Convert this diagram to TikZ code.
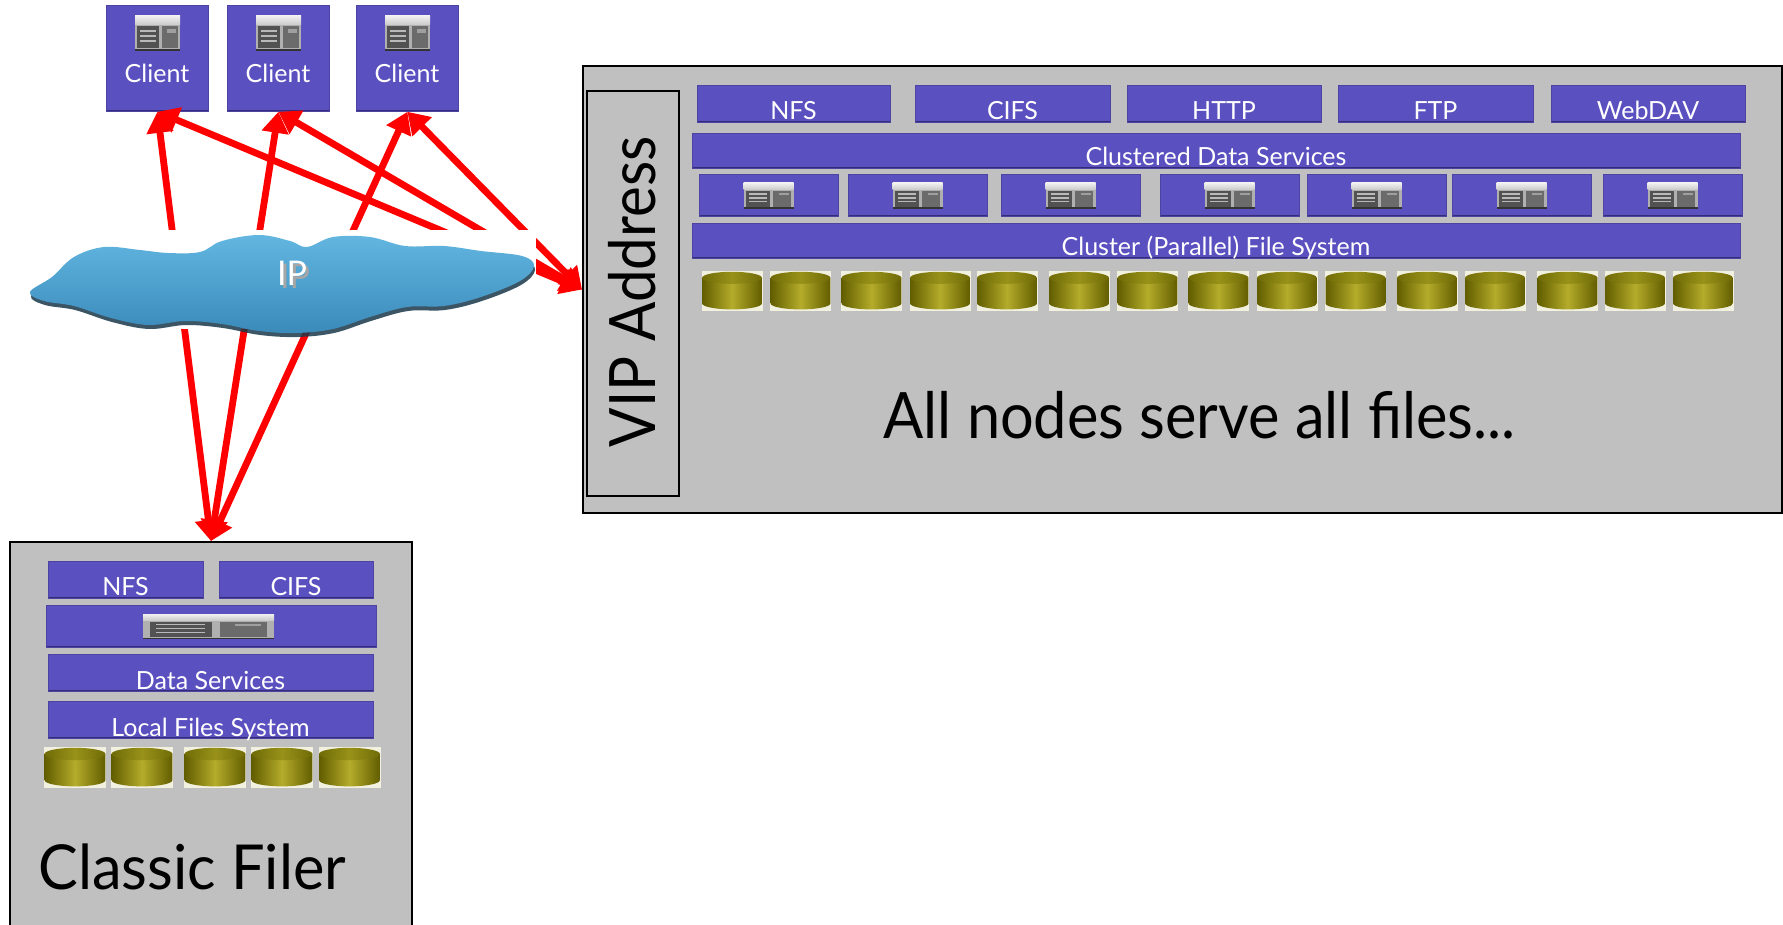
\documentclass[tikz,border=0pt]{standalone}
\usepackage{fontspec}
\setmainfont{Lato}
\usetikzlibrary{arrows.meta}

\definecolor{pur}{RGB}{91,80,191}
\definecolor{purdark}{RGB}{52,44,122}
\definecolor{panel}{RGB}{192,192,192}
\definecolor{olD}{RGB}{98,93,0}
\definecolor{olL}{RGB}{180,172,42}
\definecolor{olM}{RGB}{112,107,6}
\definecolor{olT}{RGB}{152,146,26}
\definecolor{diskbg}{RGB}{242,240,222}
\definecolor{cloudT}{RGB}{98,182,224}
\definecolor{cloudB}{RGB}{58,138,186}
\definecolor{cloudS}{RGB}{26,56,74}

\tikzset{
  pbox/.style={fill=pur, draw=pur!85!black, line width=0.4pt, inner sep=0pt,
    anchor=north west,
    path picture={\draw[purdark, line width=1.6pt]
      (path picture bounding box.south west) -- (path picture bounding box.south east);}},
  panelbox/.style={fill=panel, draw=black, line width=1pt, inner sep=0pt, anchor=north west},
  lbl/.style={text=white, font=\fontsize{12.5}{14}\selectfont, anchor=base, inner sep=0pt},
  bigtxt/.style={text=black, font=\fontsize{32}{36}\selectfont, inner sep=0pt},
  arr/.style={draw=red, line width=3.4pt,
    {Triangle[length=10.5pt,width=13pt]}-{Triangle[length=10.5pt,width=13pt]}},
}

% rack server front, centred on (#1,#2), #3 x #4 px
\newcommand\srv[4]{%
  \begin{scope}[shift={(#1,#2)}, xscale=#3, yscale=#4]
    \fill[gray!62] (-0.5,-0.5) rectangle (0.5,0.5);
    \shade[top color=gray!12, bottom color=gray!40] (-0.5,-0.5) rectangle (0.5,-0.26);
    \fill[black!68] (-0.45,-0.2) rectangle (0.03,0.42);
    \foreach \yy in {-0.1,0.05,0.2} \fill[gray!55] (-0.4,\yy) rectangle (-0.03,\yy+0.05);
    \fill[black!58] (0.09,-0.2) rectangle (0.45,0.42);
    \fill[gray!75] (0.2,-0.12) rectangle (0.4,-0.02);
    \fill[black!80] (-0.5,0.44) rectangle (0.5,0.5);
  \end{scope}}

% disk cylinder, centred on (#1,#2), #3 x #4 px
\newcommand\dsk[4]{%
  \begin{scope}[shift={(#1,#2)}, xscale=#3, yscale=#4]
    \fill[diskbg] (-0.5,-0.5) rectangle (0.5,0.5);
    \shade[left color=olD, right color=olD, middle color=olL]
      (-0.49,-0.33) -- (-0.49,0.31)
      arc[start angle=180, end angle=0, x radius=0.49, y radius=0.15]
      -- (0.49,-0.33) -- cycle;
    \shade[left color=olM, right color=olM, middle color=olT]
      (0,-0.33) ellipse[x radius=0.49, y radius=0.15];
  \end{scope}}

\begin{document}
\begin{tikzpicture}[x=0.5pt, y=-0.5pt]
\useasboundingbox (0,0) rectangle (1783,925);
\clip (0,0) rectangle (1783,925);

% ---------------- clients ----------------
\foreach \n/\x in {c1/106, c2/227, c3/356} {
  \node[pbox, minimum width=51pt, minimum height=53pt] (\n) at (\x,5) {};
}
\srv{157.5}{33.5}{45}{35}
\srv{278.5}{33.5}{45}{35}
\srv{407.5}{33.5}{45}{35}
\node[lbl] (tc1) at (157,83) {Client};
\node[lbl] (tc2) at (278,83) {Client};
\node[lbl] (tc3) at (407,83) {Client};

% ---------------- clustered system ----------------
\node[panelbox, minimum width=599.5pt, minimum height=223.5pt] (big) at (582,65) {};
\node[panelbox, line width=1.2pt, minimum width=46pt, minimum height=202.5pt] (vipbox) at (586,90) {};
\node[bigtxt, rotate=90, xscale=0.91] (vip) at (632,292) {VIP Address};

\node[pbox, minimum width=96.5pt, minimum height=18.5pt] (p1) at (697,85) {};
\node[pbox, minimum width=97.5pt, minimum height=18.5pt] (p2) at (915,85) {};
\node[pbox, minimum width=97pt, minimum height=18.5pt] (p3) at (1127,85) {};
\node[pbox, minimum width=97.5pt, minimum height=18.5pt] (p4) at (1338,85) {};
\node[pbox, minimum width=97pt, minimum height=18.5pt] (p5) at (1551,85) {};
\node[lbl] (tp1) at (793.5,120) {NFS};
\node[lbl] (tp2) at (1012.5,120) {CIFS};
\node[lbl] (tp3) at (1224,120) {HTTP};
\node[lbl] (tp4) at (1435.5,120) {FTP};
\node[lbl] (tp5) at (1648,120) {WebDAV};

\node[pbox, minimum width=524pt, minimum height=17.5pt] (cds) at (692,133) {};
\node[lbl] (tcds) at (1216,166) {Clustered Data Services};

\foreach \x [count=\i] in {699,848,1001,1160,1307,1452,1603} {
  \node[pbox, minimum width=69.5pt, minimum height=21pt] (s\i) at (\x,174) {};
  \srv{\x+69.5}{196}{50}{26}
}

\node[pbox, minimum width=524pt, minimum height=17.5pt] (cfs) at (692,223) {};
\node[lbl] (tcfs) at (1216,256) {Cluster (Parallel) File System};

\foreach \x in {732,800.5,871.5,940,1007,1079,1147.5,1218.5,1287,1355.5,1427,1495,1567.5,1635,1703} {
  \dsk{\x}{291}{61}{40}
}

\node[bigtxt, anchor=base, xscale=0.93] (allnodes) at (1199.5,438) {All nodes serve all files...};

% ---------------- classic filer ----------------
\node[panelbox, minimum width=201pt, minimum height=200pt] (filer) at (9,541) {};
\node[pbox, minimum width=77.5pt, minimum height=18.5pt] (fnfs) at (48,561) {};
\node[pbox, minimum width=77pt, minimum height=18.5pt] (fcifs) at (219,561) {};
\node[lbl] (tfnfs) at (125.5,595) {NFS};
\node[lbl] (tfcifs) at (296,595) {CIFS};
\node[pbox, minimum width=165pt, minimum height=21pt] (fsrv) at (46,605) {};
\srv{208.5}{626.5}{131}{25}
\node[pbox, minimum width=162.5pt, minimum height=18.5pt] (fds) at (48,654) {};
\node[lbl] (tfds) at (210.5,689) {Data Services};
\node[pbox, minimum width=162.5pt, minimum height=18.5pt] (flfs) at (48,701) {};
\node[lbl] (tflfs) at (210.5,736) {Local Files System};
\foreach \x in {75,142,215,282,349.5} {
  \dsk{\x}{767.5}{62}{41}
}
\node[bigtxt, font=\fontsize{31}{35}\selectfont, anchor=base west, xscale=0.96] (classic) at (38,889) {Classic Filer};

% ---------------- connections ----------------
\draw[arr] (c1.south) -- (filer.north);
\draw[arr] (c2.south) -- (filer.north);
\draw[arr] (c3.south) -- (filer.north);
\draw[arr] (c1.south) -- (big.west);
\draw[arr] (c2.south) -- (big.west);
\draw[arr] (c3.south) -- (big.west);

% ---------------- IP cloud ----------------
\fill[white] (20,230) rectangle (536,329);
\def\cloudpath{plot[smooth cycle, tension=0.6] coordinates {
  (30,292) (52,277) (74,257) (104,247) (140,250) (168,253) (200,252) (222,241)
  (259,235) (290,241) (307,247) (333,237) (370,237) (405,246) (444,246) (481,251)
  (522,256) (534,266) (520,281) (481,297) (444,306) (407,307) (370,317) (333,329)
  (296,333) (259,331) (222,324) (185,321) (148,325) (111,318) (74,306) (44,301)}}
\fill[cloudS, opacity=0.85, shift={(1,4)}] \cloudpath;
\shade[top color=cloudT, bottom color=cloudB] \cloudpath;
\node[text=gray!70, font=\fontsize{17}{20}\selectfont, inner sep=0pt] (ipshadow) at (295,276) {IP};
\node[text=white, font=\fontsize{17}{20}\selectfont, inner sep=0pt] (ip) at (292,273) {IP};
\end{tikzpicture}
\end{document}
